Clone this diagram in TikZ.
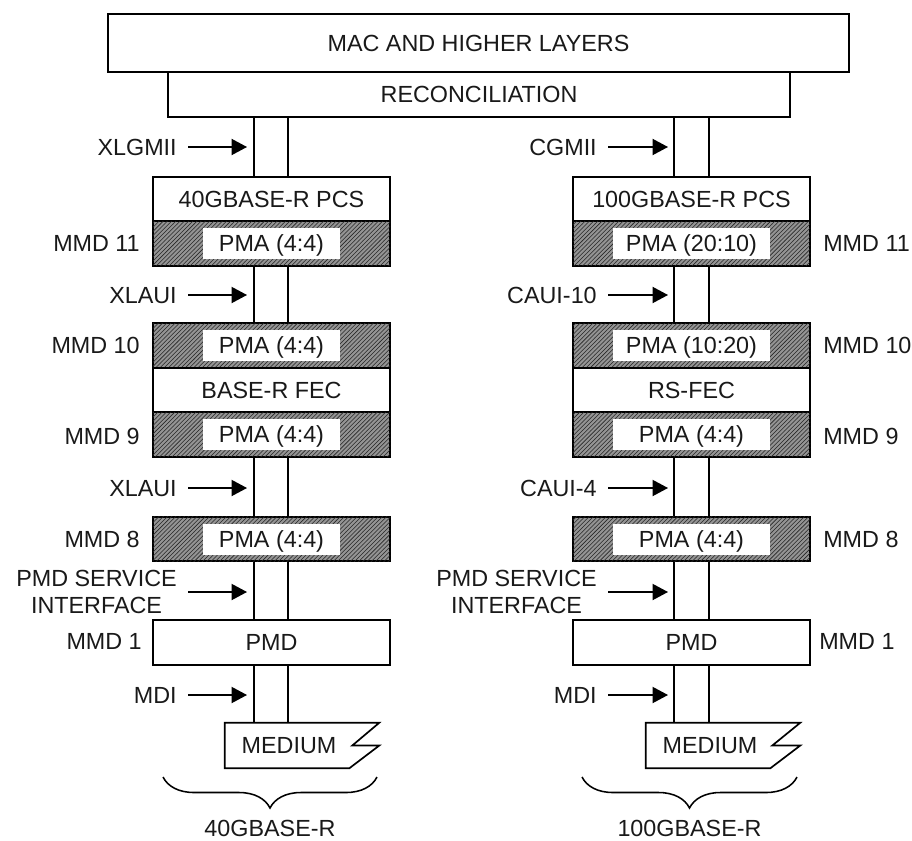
\documentclass[tikz,border=0pt]{standalone}
\usepackage{fontspec}
\setmainfont{Liberation Sans}
\usetikzlibrary{arrows.meta,calc,patterns,decorations.pathreplacing}

\begin{document}
\begin{tikzpicture}[
  x=0.025cm, y=-0.025cm,
  every node/.style={font=\fontsize{16.6}{19.5}\selectfont, text=black!90},
  topbox/.style={draw, line width=1.2pt, fill=white, inner sep=0pt,
                 text height=11.8pt, text depth=0pt},
  layer/.style={topbox, minimum width=5.925cm, minimum height=1.1125cm},
  pmaband/.style={layer, fill=black!42,
                  postaction={pattern=north east lines, pattern color=black!85}},
  inset/.style={fill=white, minimum height=0.775cm, inner sep=0pt,
                text height=11.8pt, text depth=0pt},
  chan/.style={line width=1pt},
  ifarrow/.style={-{Triangle[length=11pt,width=11.5pt]}, line width=1pt},
  iflabel/.style={inner xsep=0.275cm, inner ysep=0pt, text height=11.8pt, text depth=0pt},
  iflabeltwo/.style={inner xsep=0.275cm, inner ysep=0pt, align=center},
  mmd/.style={inner sep=0pt, text height=11.8pt, text depth=0pt},
  medbox/.style={minimum width=3.85cm, minimum height=1.125cm, inner sep=0pt},
  outline/.style={line width=1.2pt, line join=miter},
  brc/.style={decorate, decoration={brace, amplitude=0.775cm}, line width=1.1pt},
]
\useasboundingbox (0,0) rectangle (912,840);

%% Top layers
\node[topbox, minimum width=18.525cm, minimum height=1.45cm] (mac) at (478.5,43) {MAC AND HIGHER LAYERS};
\node[topbox, minimum width=15.55cm, minimum height=1.125cm] (recon) at (479,94.5) {RECONCILIATION};

%% Channel lines and arrow tips
\coordinate (l1) at (254,0);   \coordinate (l2) at (288,0);
\coordinate (r1) at (674,0);   \coordinate (r2) at (709,0);
\coordinate (tipL) at (247,0); \coordinate (tipR) at (668,0);

%% 40GBASE-R stack
\node[layer]   (pcsL)   at (271.5,199)   {40GBASE-R PCS};
\node[pmaband] (mmd11L) at (271.5,243.5) {};
\node[inset, minimum width=3.4cm] (pma11L) at (mmd11L) {PMA (4:4)};
\node[pmaband] (mmd10L) at (271.5,345.5) {};
\node[inset, minimum width=3.4cm] (pma10L) at (mmd10L) {PMA (4:4)};
\node[layer]   (fecL)   at (271.5,390)   {BASE-R FEC};
\node[pmaband] (mmd9L)  at (271.5,434.5) {};
\node[inset, minimum width=3.4cm] (pma9L) at (mmd9L) {PMA (4:4)};
\node[pmaband] (mmd8L)  at (271.5,539)   {};
\node[inset, minimum width=3.4cm] (pma8L) at (mmd8L) {PMA (4:4)};
\node[layer]   (pmdL)   at (271.5,642.5) {PMD};
\node[medbox]  (medL)   at (302,745.5)   {};
\draw[outline] (medL.north west) -- (medL.north east) -- ($(medL.east)+(-27,0)$)
  -- (medL.east) -- ($(medL.south east)+(-30,0)$) -- (medL.south west) -- cycle;
\node[mmd] (medLtxt) at (289,745.5) {MEDIUM};
\foreach \a/\b in {recon/pcsL, mmd11L/mmd10L, mmd9L/mmd8L, mmd8L/pmdL, pmdL/medL}
  \draw[chan] (\a.south -| l1) -- (\b.north -| l1) (\a.south -| l2) -- (\b.north -| l2);

\node[iflabel, anchor=east] (xlgmii) at (188,147) {XLGMII};
\draw[ifarrow] (xlgmii) -- (xlgmii -| tipL);
\node[iflabel, anchor=east] (xlauiA) at (188,295) {XLAUI};
\draw[ifarrow] (xlauiA) -- (xlauiA -| tipL);
\node[iflabel, anchor=east] (xlauiB) at (188,488) {XLAUI};
\draw[ifarrow] (xlauiB) -- (xlauiB -| tipL);
\node[iflabeltwo, anchor=east] (psiL) at (188,592) {PMD SERVICE\\INTERFACE};
\draw[ifarrow] (psiL) -- (psiL -| tipL);
\node[iflabel, anchor=east] (mdiL) at (188,695) {MDI};
\draw[ifarrow] (mdiL) -- (mdiL -| tipL);

\node[mmd, anchor=east] (m11L) at (140,243.5) {MMD 11};
\node[mmd, anchor=east] (m10L) at (140,345.5) {MMD 10};
\node[mmd, anchor=east] (m9L)  at (140,436)   {MMD 9};
\node[mmd, anchor=east] (m8L)  at (140,539)   {MMD 8};
\node[mmd, anchor=east] (m1L)  at (142,641)   {MMD 1};

\draw[brc] (377,777) -- (163,777);
\node[mmd] (rate40) at (270,828) {40GBASE-R};

%% 100GBASE-R stack
\node[layer]   (pcsR)   at (691.5,199)   {100GBASE-R PCS};
\node[pmaband] (mmd11R) at (691.5,243.5) {};
\node[inset, minimum width=3.925cm] (pma11R) at (mmd11R) {PMA (20:10)};
\node[pmaband] (mmd10R) at (691.5,345.5) {};
\node[inset, minimum width=3.925cm] (pma10R) at (mmd10R) {PMA (10:20)};
\node[layer]   (fecR)   at (691.5,390)   {RS-FEC};
\node[pmaband] (mmd9R)  at (691.5,434.5) {};
\node[inset, minimum width=3.925cm] (pma9R) at (mmd9R) {PMA (4:4)};
\node[pmaband] (mmd8R)  at (691.5,539)   {};
\node[inset, minimum width=3.925cm] (pma8R) at (mmd8R) {PMA (4:4)};
\node[layer]   (pmdR)   at (691.5,642.5) {PMD};
\node[medbox]  (medR)   at (723,745.5)   {};
\draw[outline] (medR.north west) -- (medR.north east) -- ($(medR.east)+(-28,0)$)
  -- (medR.east) -- ($(medR.south east)+(-30,0)$) -- (medR.south west) -- cycle;
\node[mmd] (medRtxt) at (710,745.5) {MEDIUM};
\foreach \a/\b in {recon/pcsR, mmd11R/mmd10R, mmd9R/mmd8R, mmd8R/pmdR, pmdR/medR}
  \draw[chan] (\a.south -| r1) -- (\b.north -| r1) (\a.south -| r2) -- (\b.north -| r2);

\node[iflabel, anchor=east] (cgmii) at (608,147) {CGMII};
\draw[ifarrow] (cgmii) -- (cgmii -| tipR);
\node[iflabel, anchor=east] (caui10) at (608,295) {CAUI-10};
\draw[ifarrow] (caui10) -- (caui10 -| tipR);
\node[iflabel, anchor=east] (caui4) at (608,488) {CAUI-4};
\draw[ifarrow] (caui4) -- (caui4 -| tipR);
\node[iflabeltwo, anchor=east] (psiR) at (608,592) {PMD SERVICE\\INTERFACE};
\draw[ifarrow] (psiR) -- (psiR -| tipR);
\node[iflabel, anchor=east] (mdiR) at (608,695) {MDI};
\draw[ifarrow] (mdiR) -- (mdiR -| tipR);

\node[mmd, anchor=west] (m11R) at (823,243.5) {MMD 11};
\node[mmd, anchor=west] (m10R) at (823,345.5) {MMD 10};
\node[mmd, anchor=west] (m9R)  at (823,436)   {MMD 9};
\node[mmd, anchor=west] (m8R)  at (823,539)   {MMD 8};
\node[mmd, anchor=west] (m1R)  at (819,641)   {MMD 1};

\draw[brc] (797,777) -- (582,777);
\node[mmd] (rate100) at (689.5,828) {100GBASE-R};
\end{tikzpicture}
\end{document}
